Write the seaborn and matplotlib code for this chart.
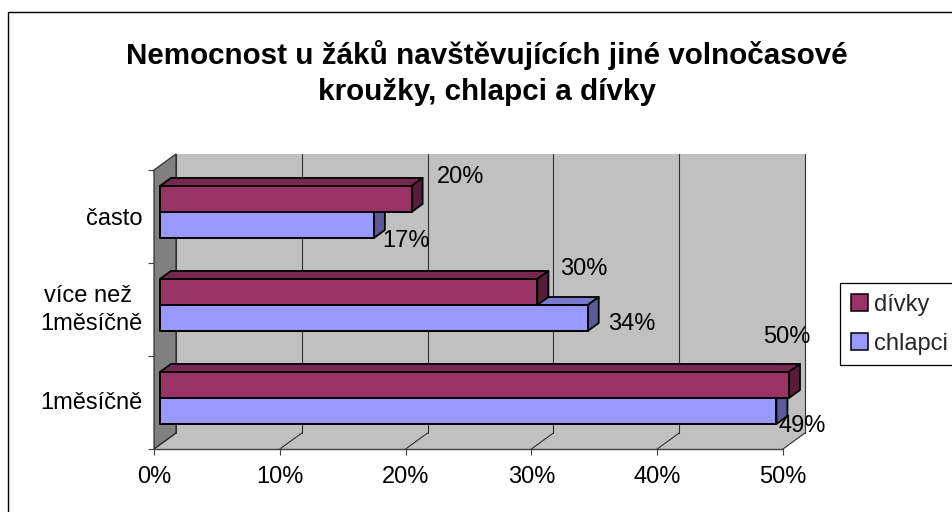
import matplotlib
matplotlib.use("Agg")
import matplotlib.pyplot as plt
from matplotlib.patches import Polygon, Rectangle
from matplotlib.lines import Line2D
from matplotlib.transforms import Affine2D, IdentityTransform
import pandas as pd
import seaborn as sns

# ---- data ----
categories = ["často", "více než \n1měsíčně", "1měsíčně"]
divky = [20, 30, 50]
chlapci = [17, 34, 49]
series_names = ["dívky", "chlapci"]
title = "Nemocnost u žáků navštěvujících jiné volnočasové\nkroužky, chlapci a dívky"
x_ticks = [0, 10, 20, 30, 40, 50]

# ---- layout / style ----
W, H = 953, 512
DEPTH = (22, 16)          # pixel depth of the 3D box
BAR_FRONT = (6, 4.5)      # bar front plane offset
BAR_DEPTH = (11, 8)       # pixel depth of the bars
colors = {"dívky": "#993366", "chlapci": "#9999FF"}
tops = {"dívky": "#772850", "chlapci": "#7A7ACC"}
sides = {"dívky": "#561D3B", "chlapci": "#5A5A99"}
# data-label offsets (px) from bar end, per series and category
label_off = {"dívky": [(25, 22), (23, 23), (-26, 48)],
             "chlapci": [(8, -16), (20, -6), (2, -15)]}
cat_label_shift = [0, 5, 2]

sns.set_theme(style="white")
plt.rcParams["font.family"] = ["Liberation Sans", "DejaVu Sans"]
FS = 17

df = pd.DataFrame({
    "cat": categories * 2,
    "serie": [series_names[0]] * 3 + [series_names[1]] * 3,
    "val": divky + chlapci,
})

fig = plt.figure(figsize=(W / 100, H / 100), dpi=100, facecolor="white")
ax = fig.add_axes([154 / W, 1 - 449 / H, (783 - 154) / W, (449 - 170) / H])
ax.patch.set_alpha(0)

sns.barplot(data=df, x="val", y="cat", hue="serie", order=categories,
            hue_order=series_names, palette=colors, width=0.56, gap=0,
            edgecolor="black", linewidth=1.4, saturation=1, ax=ax, legend=False,
            errorbar=None)
ax.set_xlim(0, 50)
ax.set_ylim(2.5, -0.5)
ax.set_xlabel("")
ax.set_ylabel("")
sns.despine(ax=ax, left=True, bottom=True, top=True, right=True)

ident = IdentityTransform()


def disp(x, y, off=(0, 0)):
    px, py = ax.transData.transform((x, y))
    return (px + off[0], py + off[1])


def poly(points, fc, ec, lw, z):
    ax.add_patch(Polygon(points, closed=True, facecolor=fc, edgecolor=ec, linewidth=lw,
                         transform=ident, zorder=z, clip_on=False, joinstyle="round"))


def line(a, b, color, lw, z):
    ax.add_line(Line2D([a[0], b[0]], [a[1], b[1]], color=color, linewidth=lw,
                       transform=ident, zorder=z, clip_on=False))


# walls
x0, x1 = ax.get_xlim()
yb, yt = ax.get_ylim()
poly([disp(x0, yb, DEPTH), disp(x1, yb, DEPTH), disp(x1, yt, DEPTH), disp(x0, yt, DEPTH)],
     "#C0C0C0", "none", 0, 0.5)
poly([disp(x0, yb), disp(x1, yb), disp(x1, yb, DEPTH), disp(x0, yb, DEPTH)],
     "#C0C0C0", "none", 0, 0.5)
poly([disp(x0, yb), disp(x0, yb, DEPTH), disp(x0, yt, DEPTH), disp(x0, yt)],
     "#808080", "#303030", 0.9, 0.6)

# gridlines on floor and back wall
for t in x_ticks:
    lc = "#303030"
    line(disp(t, yb), disp(t, yb, DEPTH), lc, 0.8, 0.8)
    line(disp(t, yb, DEPTH), disp(t, yt, DEPTH), lc, 0.8, 0.8)
line(disp(x0, yb), disp(x1, yb), "#404040", 1.0, 0.9)

# ticks
ax.set_xticks(x_ticks)
ax.set_xticklabels([f"{t}%" for t in x_ticks], fontsize=FS, color="black")
ax.set_yticks(range(3))
ax.set_yticklabels(categories, fontsize=FS, color="black", linespacing=1.36, multialignment="center")
ax.set_yticks([-0.5, 0.5, 1.5, 2.5], minor=True)
ax.tick_params(axis="x", which="major", bottom=True, length=4.5, width=0.8, color="#404040",
               pad=8)
ax.tick_params(axis="y", which="major", left=False, length=0, pad=8)
ax.tick_params(axis="y", which="minor", left=True, length=4.5, width=0.8, color="#404040")
for lab, s in zip(ax.get_yticklabels(), cat_label_shift):
    lab.set_transform(lab.get_transform() + Affine2D().translate(0, s))

# bars: shift seaborn's bars to their plane and add top and side faces
tr = ax.transData + Affine2D().translate(*BAR_FRONT)
end = (BAR_FRONT[0] + BAR_DEPTH[0], BAR_FRONT[1] + BAR_DEPTH[1])
containers = dict(zip(series_names, ax.containers))
for name, z in (("chlapci", 3), ("dívky", 4)):
    for i, bar in enumerate(containers[name].patches):
        bar.set_transform(tr)
        bar.set_clip_on(False)
        bar.set_zorder(z + 0.5)
        bar.set_joinstyle("round")
        v = bar.get_width()
        ytop = bar.get_y()
        ybot = ytop + bar.get_height()
        poly([disp(0, ytop, BAR_FRONT), disp(v, ytop, BAR_FRONT), disp(v, ytop, end), disp(0, ytop, end)],
             tops[name], "black", 1.3, z)
        poly([disp(v, ytop, BAR_FRONT), disp(v, ytop, end), disp(v, ybot, end), disp(v, ybot, BAR_FRONT)],
             sides[name], "black", 1.3, z)
        off = label_off[name][i]
        px, py = disp(v, ytop + bar.get_height() / 2, BAR_FRONT)
        ax.text(px + off[0], py + off[1], f"{v:.0f}%", transform=ident, fontsize=FS,
                ha="left", va="center", color="black", zorder=8, clip_on=False)

# title
fig.text(487 / W, 1 - 73 / H, title, ha="center", va="center", fontsize=21.3, fontweight="bold",
         color="black", linespacing=1.33)

# legend
handles = [Rectangle((0, 0), 1, 1, facecolor=colors[n], edgecolor="black", linewidth=1.1)
           for n in series_names]
leg = fig.legend(handles, series_names, loc="upper left",
                 bbox_to_anchor=(840.5 / W, 1 - 283 / H), bbox_transform=fig.transFigure,
                 fontsize=FS, frameon=True, fancybox=False, edgecolor="black",
                 framealpha=1, borderpad=0.45, labelspacing=0.72, handlelength=0.7,
                 handleheight=0.7, handletextpad=0.25, borderaxespad=0)
leg.get_frame().set_linewidth(0.9)

# chart-area border
fig.add_artist(Rectangle((8 / W, -10 / H), 960 / W, (H - 12 + 10) / H, transform=fig.transFigure,
                         facecolor="none", edgecolor="black", linewidth=1.0, zorder=10))

fig.savefig("out.png", dpi=100)
